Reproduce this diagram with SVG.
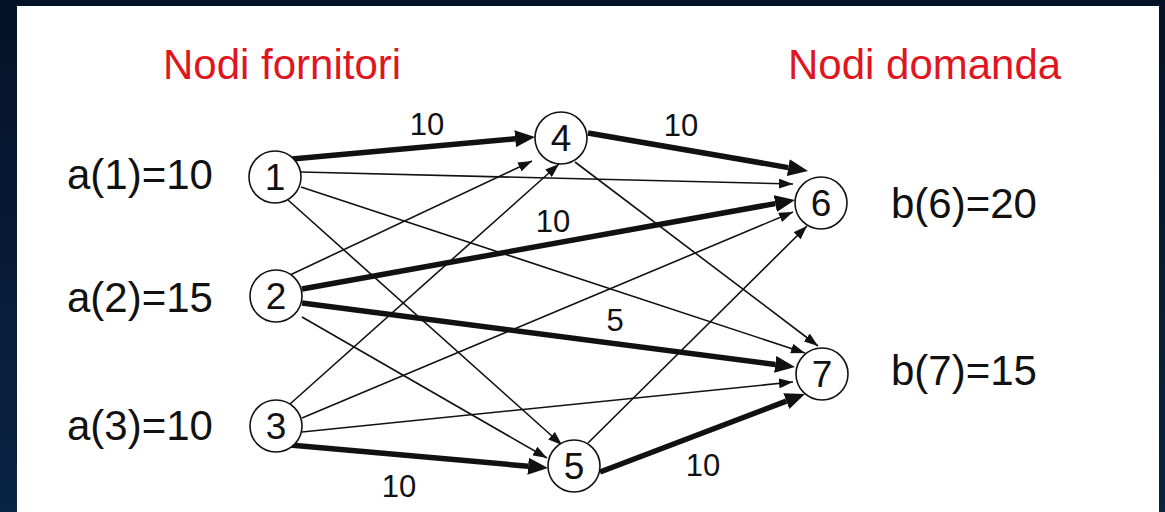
<svg xmlns="http://www.w3.org/2000/svg" width="1165" height="512" viewBox="0 0 1165 512">
  <defs>
    <linearGradient id="bg" x1="0" y1="0" x2="0" y2="1">
      <stop offset="0" stop-color="#041228"/>
      <stop offset="1" stop-color="#0a2444"/>
    </linearGradient>
    <!-- thin arrowhead: tip sits on the path end -->
    <marker id="arrowThin" markerUnits="userSpaceOnUse" markerWidth="14" markerHeight="10" refX="14" refY="5" orient="auto">
      <path d="M0,0 L14,5 L0,10 z" fill="#111"/>
    </marker>
    <!-- thick arrowhead: base sits on the path end, tip extends beyond -->
    <marker id="arrowThick" markerUnits="userSpaceOnUse" markerWidth="20" markerHeight="17" refX="0" refY="8.5" orient="auto">
      <path d="M0,0 L20,8.5 L0,17 z" fill="#111"/>
    </marker>
    <style>
      .title { font-family: "Liberation Sans", Arial, sans-serif; font-size: 42px; fill: #e0161f; }
      .supply { font-family: "Liberation Sans", Arial, sans-serif; font-size: 42px; fill: #111; }
      .node circle { fill: #fff; stroke: #111; stroke-width: 1.6; }
      .node text { font-family: "Liberation Sans", Arial, sans-serif; font-size: 37px; fill: #111; text-anchor: middle; }
      .thin { stroke: #111; stroke-width: 1.6; fill: none; marker-end: url(#arrowThin); }
      .thick { stroke: #111; stroke-width: 5.5; fill: none; marker-end: url(#arrowThick); }
      .flow { font-family: "Liberation Sans", Arial, sans-serif; font-size: 31px; fill: #111; text-anchor: middle; }
    </style>
  </defs>

  <rect x="0" y="0" width="1165" height="512" fill="url(#bg)"/>
  <rect x="17" y="6" width="1142" height="520" fill="#fff"/>

  <text class="title" x="163" y="79">Nodi fornitori</text>
  <text class="title" x="788" y="79">Nodi domanda</text>

  <text class="supply" x="67" y="189">a(1)=10</text>
  <text class="supply" x="67" y="312">a(2)=15</text>
  <text class="supply" x="67" y="440">a(3)=10</text>
  <text class="supply" x="891" y="218">b(6)=20</text>
  <text class="supply" x="891" y="385">b(7)=15</text>

  <g id="connectors">
    <!-- arcs without flow -->
    <line class="thin" x1="301" y1="172" x2="793" y2="184"/>
    <line class="thin" x1="301" y1="187" x2="805" y2="353"/>
    <line class="thin" x1="288" y1="200" x2="562" y2="445"/>
    <line class="thin" x1="290" y1="275" x2="532" y2="161"/>
    <line class="thin" x1="302" y1="317" x2="547" y2="458"/>
    <line class="thin" x1="290" y1="404" x2="559" y2="164"/>
    <line class="thin" x1="302" y1="418" x2="793" y2="212"/>
    <line class="thin" x1="302" y1="432" x2="793" y2="382"/>
    <line class="thin" x1="575" y1="162" x2="818" y2="346"/>
    <line class="thin" x1="588" y1="443" x2="807" y2="226"/>
    <!-- arcs carrying flow -->
    <line class="thick" x1="292" y1="159" x2="515.1" y2="138.8"/>
    <line class="thick" x1="588" y1="133" x2="788.3" y2="167.6"/>
    <line class="thick" x1="302" y1="289" x2="775.3" y2="203.6"/>
    <line class="thick" x1="302" y1="303" x2="775.2" y2="364.4"/>
    <line class="thick" x1="290" y1="445" x2="528.1" y2="466.2"/>
    <line class="thick" x1="600" y1="472" x2="786.3" y2="401.1"/>
    <!-- flow values -->
    <text class="flow" x="427" y="135">10</text>
    <text class="flow" x="681" y="136">10</text>
    <text class="flow" x="553" y="232">10</text>
    <text class="flow" x="615" y="331">5</text>
    <text class="flow" x="399" y="497">10</text>
    <text class="flow" x="703" y="476">10</text>
  </g>

  <g id="node1" class="node"><circle cx="275" cy="177" r="26"/><text x="275" y="190">1</text></g>
  <g id="node2" class="node"><circle cx="276" cy="296" r="26"/><text x="276" y="309">2</text></g>
  <g id="node3" class="node"><circle cx="276" cy="426" r="26"/><text x="276" y="439">3</text></g>
  <g id="node4" class="node"><circle cx="561" cy="138" r="26"/><text x="561" y="151">4</text></g>
  <g id="node5" class="node"><circle cx="574" cy="466" r="26"/><text x="574" y="479">5</text></g>
  <g id="node6" class="node"><circle cx="821" cy="203" r="26"/><text x="821" y="216">6</text></g>
  <g id="node7" class="node"><circle cx="822" cy="374" r="26"/><text x="822" y="387">7</text></g>
</svg>
